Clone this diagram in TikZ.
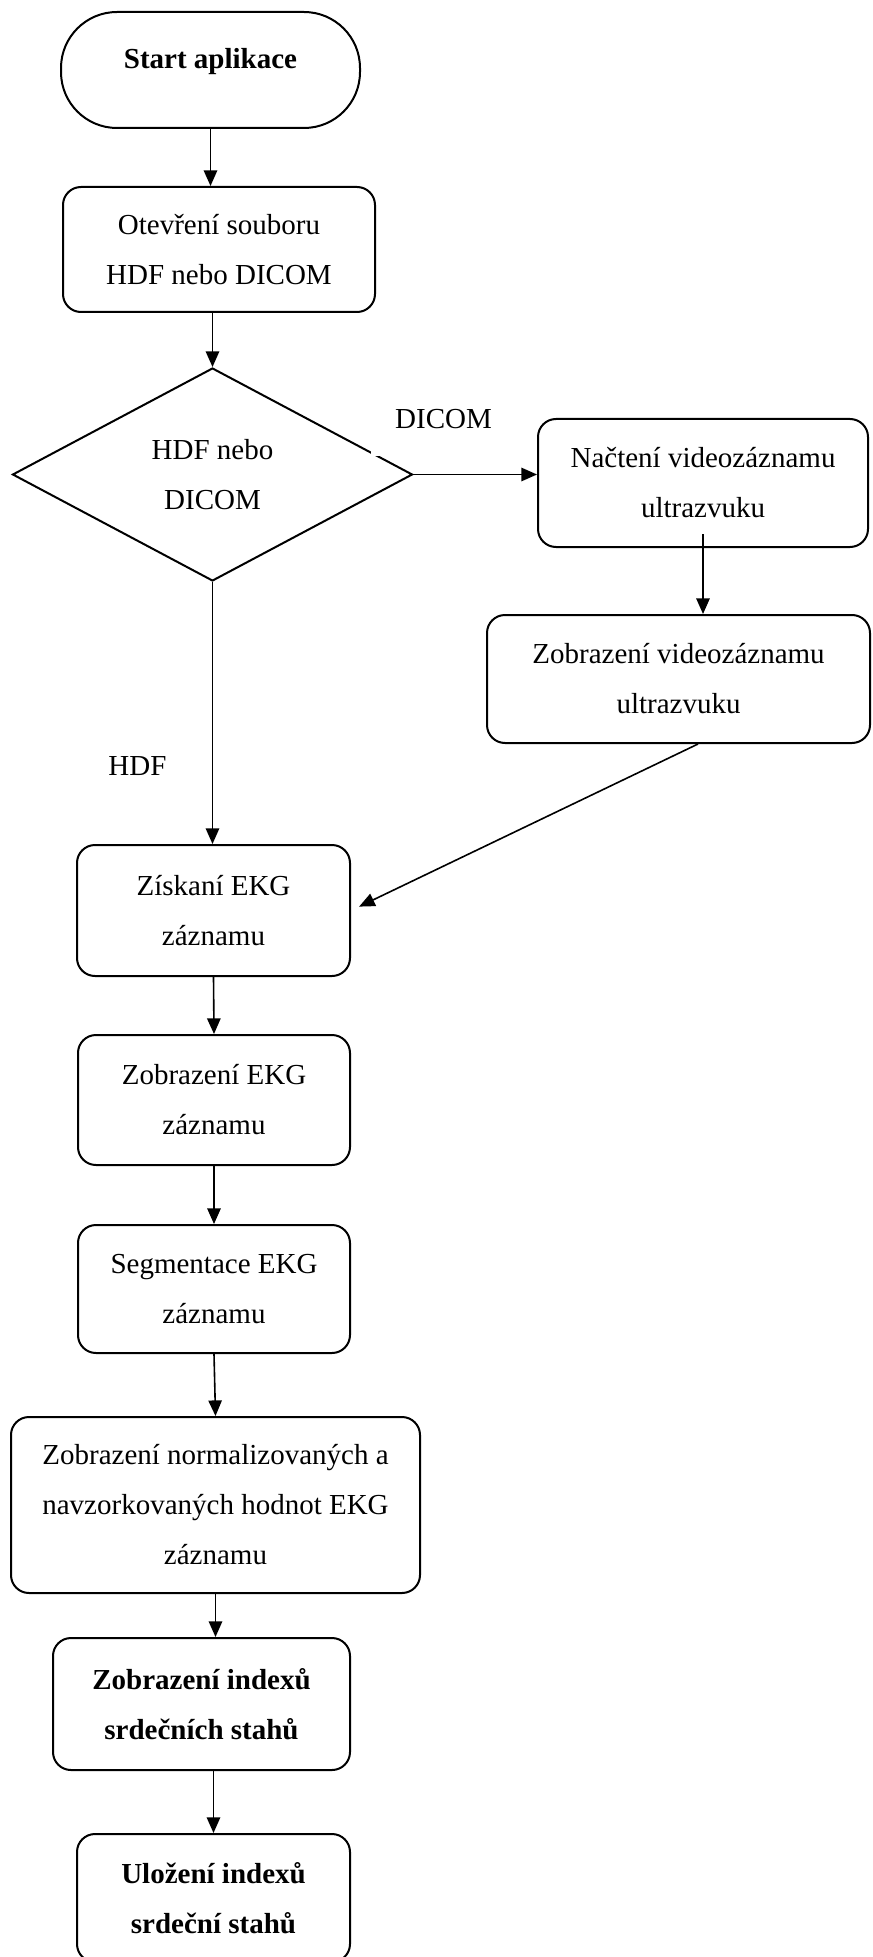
\documentclass[tikz,border=0pt]{standalone}
\usepackage{fontspec}
\setmainfont{Liberation Serif}
\usetikzlibrary{shapes.geometric,arrows.meta}

\begin{document}
\begin{tikzpicture}[x=0.5pt,y=-0.5pt,
	font=\fontsize{14.5}{25}\selectfont,
	box/.style={draw,line width=1pt,rounded corners=9pt,align=center},
	decision/.style={draw,line width=1pt,diamond,aspect=1.88,align=center,minimum width=200pt,minimum height=106.5pt},
	arr/.style={line width=0.8pt,-{Triangle[length=7.8pt,width=6.7pt]}}]
	\fill[white] (0,0) rectangle (872,1957);
	\useasboundingbox (0,0) rectangle (872,1957);
	\node[box,rounded corners=28pt,minimum width=149.5pt,minimum height=58pt,text depth=11.5pt] (start) at (210.5,70) {\textbf{Start aplikace}};
	\node[box,minimum width=156pt,minimum height=62.5pt] (open) at (219,249.5) {Otevření souboru\\HDF nebo DICOM};
	\node[decision] (dec) at (212.5,474.5) {HDF nebo\\DICOM};
	\node[fill=white,inner xsep=12pt,inner ysep=0pt,text depth=13.5pt,anchor=base] (dicom) at (443.5,429) {DICOM};
	\node[box,minimum width=165pt,minimum height=64pt] (nacteni) at (703,483) {Načtení videozáznamu\\ultrazvuku};
	\node[box,minimum width=191.5pt,minimum height=64pt] (zobvideo) at (678.5,679) {Zobrazení videozáznamu\\ultrazvuku};
	\node[anchor=base] (hdf) at (137.5,775) {HDF};
	\node[box,minimum width=136.5pt,minimum height=65.5pt] (ziskani) at (213.5,910.5) {Získaní EKG\\záznamu};
	\node[box,minimum width=136pt,minimum height=65pt] (zobekg) at (214,1100) {Zobrazení EKG\\záznamu};
	\node[box,minimum width=136pt,minimum height=64pt] (segm) at (214,1289) {Segmentace EKG\\záznamu};
	\node[box,minimum width=204.5pt,minimum height=88pt] (norm) at (215.5,1505) {Zobrazení normalizovaných a\\navzorkovaných hodnot EKG\\záznamu};
	\node[box,minimum width=148.5pt,minimum height=66pt] (indexy) at (201.5,1704) {\textbf{Zobrazení indexů}\\\textbf{srdečních stahů}};
	\node[box,minimum width=136.5pt,minimum height=64pt] (ulozeni) at (213.5,1898) {\textbf{Uložení indexů}\\\textbf{srdeční stahů}};
	\draw[arr] (start.south) -- (start.south |- open.north);
	\draw[arr] (open.south -| dec.north) -- (dec.north);
	\draw[arr] (dec.east) -- (dec.east -| nacteni.west);
	\draw[arr] ([yshift=7pt]nacteni.south) -- (nacteni.south |- zobvideo.north);
	\draw[arr,shorten >=4.5pt] ([xshift=9.75pt]zobvideo.south) -- (ziskani.east);
	\draw[arr] (dec.south) -- (dec.south |- ziskani.north);
	\draw[arr] (ziskani.south) -- (zobekg.north);
	\draw[arr] (zobekg.south) -- (segm.north);
	\draw[arr] (segm.south) -- (norm.north);
	\draw[arr] (norm.south) -- (norm.south |- indexy.north);
	\draw[arr] (indexy.south -| ulozeni.north) -- (ulozeni.north);
\end{tikzpicture}
\end{document}
